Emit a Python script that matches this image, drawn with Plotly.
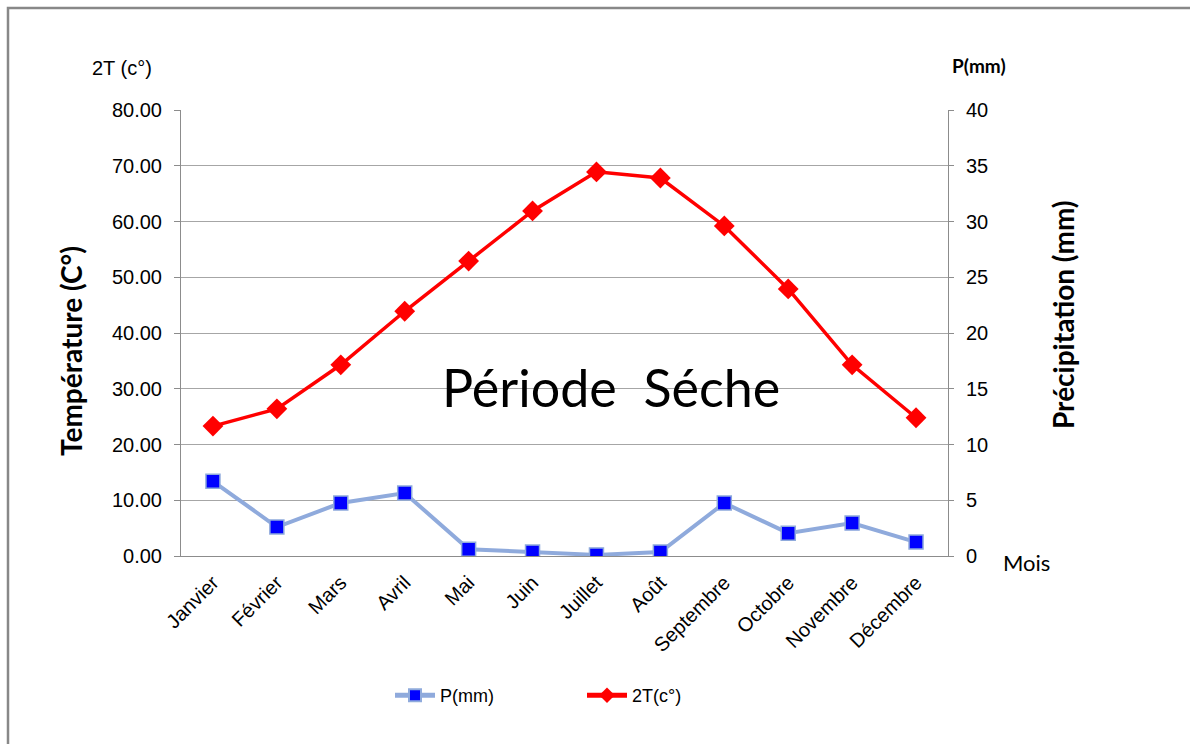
import plotly.graph_objects as go

months = ["Janvier", "Février", "Mars", "Avril", "Mai", "Juin", "Juillet",
          "Août", "Septembre", "Octobre", "Novembre", "Décembre"]
temp2 = [23.3, 26.4, 34.3, 43.9, 52.9, 61.9, 68.9, 67.8, 59.2, 47.9, 34.3, 24.8]
precip = [6.7, 2.6, 4.75, 5.65, 0.6, 0.35, 0.1, 0.35, 4.75, 2.05, 2.95, 1.25]

W, H = 1190, 744
L, R, T, B = 181, 948, 110, 556


def px_x(p):
    return (p - L) / (R - L)


def px_y(p):
    return (B - p) / (B - T)


fig = go.Figure()
fig.add_trace(go.Scatter(
    x=months, y=precip, name="P(mm)", yaxis="y2", mode="lines+markers",
    line=dict(color="#8FAADC", width=4),
    marker=dict(symbol="square", size=14, color="#0000FF",
                line=dict(color="#8FAADC", width=1.5)),
))
fig.add_trace(go.Scatter(
    x=months, y=temp2, name="2T(c°)", yaxis="y", mode="lines+markers",
    line=dict(color="#FF0000", width=3.5),
    marker=dict(symbol="diamond", size=16, color="#FF0000"),
))

ARIAL = "Liberation Sans, Arial"
axfont = dict(family=ARIAL, size=20, color="#000000")


def note(text, x, y, size, family="Lato", angle=0):
    return dict(text=text, x=px_x(x), y=px_y(y), xref="paper", yref="paper",
                xanchor="center", yanchor="middle", showarrow=False,
                textangle=angle,
                font=dict(family=family, size=size, color="#000"))


fig.update_layout(
    width=W, height=H,
    margin=dict(l=L, r=W - R, t=T, b=H - B),
    paper_bgcolor="white", plot_bgcolor="white",
    showlegend=True,
    legend=dict(orientation="h", x=px_x(390), y=px_y(677), xanchor="left",
                yanchor="top", font=dict(family=ARIAL, size=18, color="#000"),
                itemwidth=40, tracegroupgap=0, entrywidth=137,
                itemsizing="constant", bgcolor="rgba(0,0,0,0)"),
    xaxis=dict(type="category", range=[-0.5, 11.5], showgrid=False,
               showline=True, linecolor="#8C8C8C", linewidth=1,
               tickangle=-45, tickfont=dict(family=ARIAL, size=20, color="#000"),
               ticks="outside", ticklen=6, tickcolor="rgba(0,0,0,0)",
               zeroline=False),
    yaxis=dict(range=[0, 80], dtick=10, tickformat=".2f", showgrid=True,
               gridcolor="#A6A6A6", gridwidth=1, showline=True,
               linecolor="#8C8C8C", ticks="outside", ticklen=6,
               tickcolor="#8C8C8C", tickfont=axfont, zeroline=False,
               ticklabelstandoff=8),
    yaxis2=dict(range=[0, 40], dtick=5, overlaying="y", side="right",
                showgrid=False, showline=True, linecolor="#8C8C8C",
                ticks="outside", ticklen=5, tickcolor="#8C8C8C",
                tickfont=axfont, zeroline=False, ticklabelstandoff=8),
    shapes=[dict(type="rect", xref="paper", yref="paper",
                 x0=px_x(8), x1=px_x(1200), y0=px_y(760), y1=px_y(8),
                 line=dict(color="#888888", width=2.5), layer="below")],
    annotations=[
        note("2T (c°)", 122, 68, 20, family=ARIAL),
        note("<b>P(mm)</b>", 979, 66, 19),
        note("<b>Température (C°)</b>", 71, 351, 28, angle=-90),
        note("<b>Précipitation (mm)</b>", 1063, 315, 28, angle=-90),
        note("Période  Séche", 611, 387, 52),
        note("Mois", 1026, 562, 22),
    ],
)

fig.write_html("out.html", config={"displayModeBar": False},
               post_script="document.body.style.margin='0px';")
